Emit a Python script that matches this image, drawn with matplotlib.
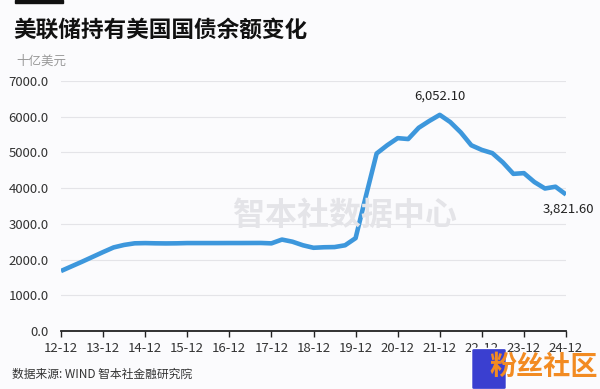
import matplotlib.pyplot as plt
import numpy as np
from matplotlib.patches import Rectangle, FancyBboxPatch

plt.rcParams['font.family'] = ['Noto Sans CJK SC', 'DejaVu Sans']

# quarterly holdings, billion USD, 2012-12 .. 2024-12
years = ['12-12', '13-12', '14-12', '15-12', '16-12', '17-12', '18-12',
         '19-12', '20-12', '21-12', '22-12', '23-12', '24-12']
holdings = [1680,
            1810, 1940, 2075, 2210,
            2340, 2410, 2455, 2461,
            2455, 2452, 2455, 2462,
            2462, 2462, 2462, 2463,
            2463, 2464, 2465, 2454,
            2560, 2500, 2400, 2330,
            2345, 2350, 2400, 2600,
            3800, 4970, 5200, 5400,
            5375, 5690, 5880, 6052.1,
            5850, 5560, 5200, 5070,
            4980, 4720, 4400, 4420,
            4170, 3990, 4040, 3821.6]

bg = '#fbfbfd'
fig = plt.figure(figsize=(6, 3.89), dpi=100, facecolor=bg)
ax = fig.add_axes([61/600, 1 - 331/389, 505/600, 250/389], facecolor=bg)

x = np.arange(len(holdings))
ax.plot(x, holdings, color='#3d97dc', lw=3.3, solid_joinstyle='round',
        solid_capstyle='butt', zorder=3)

ax.set_xlim(0, len(holdings) - 1)
ax.set_ylim(0, 7000)
ax.set_yticks(np.arange(0, 7001, 1000))
ax.set_yticklabels([f'{v:.1f}' for v in np.arange(0, 7001, 1000)])
ax.set_xticks(np.arange(0, len(holdings), 4))
ax.set_xticklabels(years)

ax.grid(axis='y', color='#e4e4e8', lw=0.8)
ax.set_axisbelow(True)
for s in ['top', 'right', 'left']:
    ax.spines[s].set_visible(False)
ax.spines['bottom'].set_color('#222222')
ax.spines['bottom'].set_linewidth(1.3)
ax.tick_params(axis='x', direction='out', length=4, width=1, color='#222222',
               labelsize=9.5, labelcolor='#333333', pad=4)
ax.tick_params(axis='y', length=0, labelsize=9.5, labelcolor='#333333', pad=9)

# peak and last value labels
ipk = int(np.argmax(holdings))
ax.annotate(f'{holdings[ipk]:,.2f}', (x[ipk], holdings[ipk]), xytext=(0, 9),
            textcoords='offset points', ha='center', va='bottom',
            fontsize=9.5, color='#222222')
ax.annotate(f'{holdings[-1]:,.2f}', (x[-1], holdings[-1]), xytext=(2, -6),
            textcoords='offset points', ha='center', va='top',
            fontsize=9.5, color='#222222', annotation_clip=False)

# watermark
fig.text(345/600, 1 - 216/389, '智本社数据中心', ha='center', va='center',
         fontsize=23, fontweight='bold', color='#e4e4e8', zorder=0)

# header
fig.patches.append(Rectangle((15/600, 1 - 3/389), 48/600, 3/389,
                             transform=fig.transFigure, color='#111111'))
fig.text(13/600, 1 - 30/389, '美联储持有美国国债余额变化', ha='left', va='center',
         fontsize=16.3, fontweight='bold', color='#111111')
fig.text(16/600, 1 - 61/389, '十亿美元', ha='left', va='center',
         fontsize=9, color='#999999')

fig.text(12/600, 1 - 374/389, '数据来源: WIND 智本社金融研究院', ha='left',
         va='center', fontsize=8.5, color='#333333')

# site badge bottom right
fig.patches.append(FancyBboxPatch((474/600, 1 - 388/389), 30/600, 38/389,
                                  boxstyle='round,pad=0.004',
                                  transform=fig.transFigure,
                                  facecolor='#3a3fd0', edgecolor='white'))
fig.text(598/600, 1 - 367/389, '粉丝社区', ha='right', va='center',
         fontsize=19.5, fontweight='bold', color='#f28b22')

fig.savefig('out.png', dpi=100, facecolor=bg)
